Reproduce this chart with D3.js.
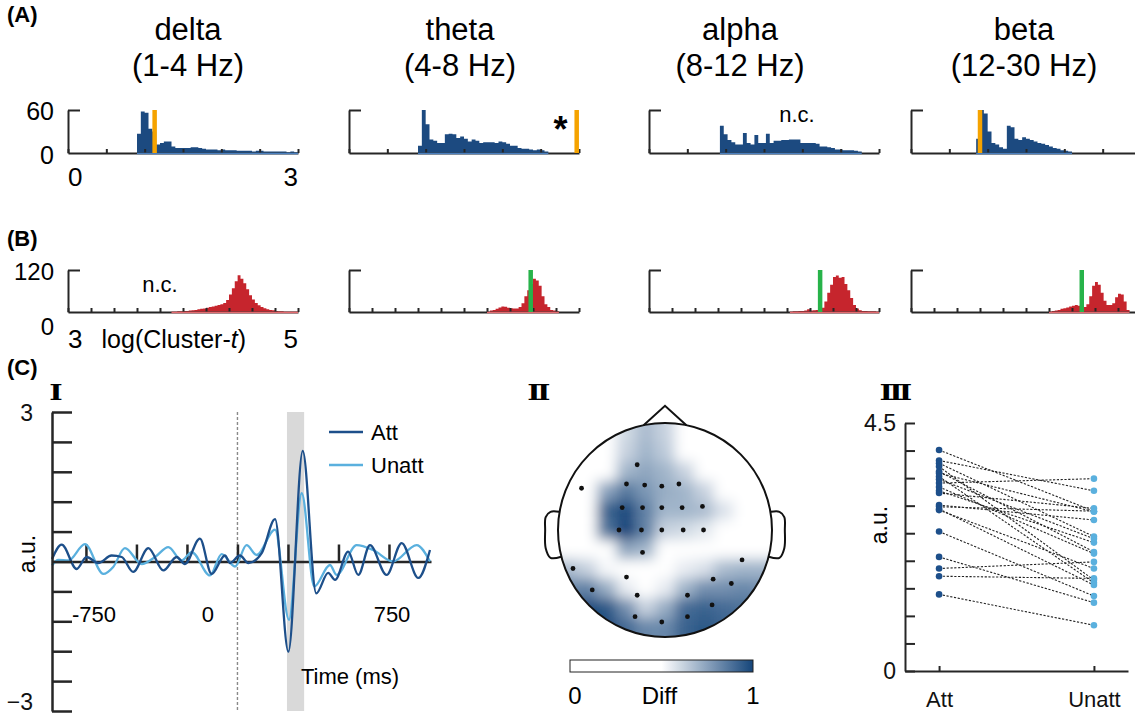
<!DOCTYPE html>
<html>
<head>
<meta charset="utf-8">
<script src="https://cdn.jsdelivr.net/npm/d3@7"></script>
<style>
  body { margin: 0; background: #fff; }
  svg { font-family: "Liberation Sans", Arial, sans-serif; display: block; }
</style>
</head>
<body>
<div id="chart"></div>
<script>
// ---------- data ----------
const bands = ["delta", "theta", "alpha", "beta"];
const bandRanges = ["(1-4 Hz)", "(4-8 Hz)", "(8-12 Hz)", "(12-30 Hz)"];

// (A) null distributions, bin width 0.05, counts per bin from first bin start
const aBinStart = [0.90, 0.90, 0.925, 0.85];
const aCounts = [
  [27,58,56,34,30,12,14,16,16,9,7,7,7,7,8,8,7,6,5,5,5,4,5,4,4,4,3,3,3,3,2,3,3,2,2,2,2,2,2,1,2,1],
  [10,60,40,19,17,14,14,26,27,26,21,23,20,16,19,17,14,15,15,15,14,16,15,13,10,10,7,6,6,5,4,5,4,2],
  [38,26,18,15,12,12,28,14,12,25,14,14,27,14,17,17,18,18,19,19,19,14,14,14,14,13,9,9,8,7,5,5,4,4,4,3,2],
  [20,60,55,30,14,12,8,6,38,36,20,18,22,20,18,16,14,13,11,9,7,6,4,3,2]
];
const aObserved = [1.13, 2.97, null, 0.90];   // orange markers

// (B) log(Cluster-t) distributions, bin width 0.025
const bBinStart = [3.90, 4.20, 4.225, 4.20];
const bCounts = [
  [1,1,2,2,3,3,4,5,6,8,9,10,12,14,16,18,20,22,26,34,50,68,88,105,95,82,65,48,36,26,19,14,11,8,6,5,3,2,2,1,1,1,1,1],
  [1,4,6,9,13,16,15,12,11,10,10,14,25,45,62,80,95,90,75,45,22,14,6,4,2],
  [1,2,2,3,3,4,8,4,5,6,6,12,30,55,78,100,104,98,100,80,62,40,20,10,5,3,3,2,2,2,1],
  [1,3,4,6,9,11,13,16,18,20,18,14,14,22,45,75,86,78,55,32,20,20,25,42,52,50,30,6]
];
const bObserved = [null, 4.58, 4.488, 4.485];  // green markers

// (C-I) waveforms (ms, a.u.)
const attT = [-918,-870,-796,-747,-689,-623,-573,-516,-441,-367,-301,-260,-186,-128,-62,-37,12,54,120,186,252,323,390,449,483,548,598,656,738,813,895,953];
const attV = [0.05,0.34,-0.15,0.09,-0.03,0.12,0.09,-0.21,0.27,-0.18,0.09,-0.05,0.46,-0.25,0.12,-0.03,0.12,-0.03,0.17,0.85,-1.81,2.22,-0.64,-0.23,-0.37,0.20,-0.27,0.33,-0.27,0.37,-0.33,0.23];
const unattT = [-918,-887,-837,-755,-664,-615,-557,-474,-408,-342,-276,-227,-136,-78,-12,45,95,186,255,318,380,458,491,590,672,770,887,953];
const unattV = [-0.08,0.03,0.02,0.35,-0.25,-0.11,0.27,-0.05,0.09,0.29,0.02,0.19,-0.28,0.15,-0.10,0.33,0.13,0.64,-1.17,1.37,-0.50,-0.07,-0.27,0.33,0.23,0.0,0.33,0.0];
const shadeWindow = [245, 330];
const timeTicks = [-750, -500, -250, 0, 250, 500, 750];
const timeLabels = ["-750", "0", "750"];
const timeLabelAt = [-710, -146, 765];

// (C-II) topography: 11x11 grid of Diff values, rows front->back, cols left->right
const topoGrid = [
  [.2,.2,.2,.6,.68,.62,.2,.2,.2,.2,.2],
  [.2,.2,.2,.62,.7,.64,.2,.2,.2,.2,.2],
  [.2,.2,.3,.7,.74,.7,.62,.2,.2,.2,.2],
  [.2,.2,.75,.86,.78,.72,.7,.62,.2,.2,.2],
  [.2,.3,.92,.98,.84,.7,.7,.68,.58,.2,.2],
  [.2,.3,.88,1.0,.84,.62,.6,.56,.2,.2,.2],
  [.2,.2,.5,.74,.7,.5,.2,.2,.2,.2,.2],
  [.68,.62,.52,.2,.2,.2,.55,.58,.68,.7,.7],
  [.82,.84,.72,.55,.2,.55,.7,.8,.8,.82,.8],
  [.9,.98,.95,.8,.62,.72,.9,.92,.9,.88,.84],
  [.95,1.0,.98,.9,.82,.82,.92,.95,.92,.9,.85]
];
const electrodeX = [-0.26,-0.78,-0.36,-0.19,-0.03,0.13,-0.40,-0.21,-0.03,0.16,0.35,-0.43,-0.22,-0.03,0.17,0.36,-0.21,0.72,-0.86,-0.36,0.45,0.62,-0.68,-0.26,0.21,0.44,-0.28,-0.03,0.21];
const electrodeY = [-0.61,-0.39,-0.43,-0.42,-0.41,-0.43,-0.21,-0.21,-0.21,-0.21,-0.22,0,0,0,0,0,0.21,0.28,0.36,0.44,0.46,0.50,0.56,0.61,0.61,0.70,0.81,0.86,0.81];

// (C-III) per-subject amplitudes
const conditions = ["Att", "Unatt"];
const attAmp = [4.01,3.82,3.77,3.71,3.62,3.59,3.53,3.48,3.41,3.34,3.27,3.23,3.01,2.98,2.94,2.92,2.53,2.07,1.86,1.72,1.39];
const unattAmp = [2.90,3.27,2.44,1.65,2.16,2.89,1.60,2.40,3.49,2.13,2.33,2.95,2.74,2.90,1.56,1.86,1.36,1.24,1.98,1.68,0.83];

// ---------- styles ----------
const blue = "#1c4a80", red = "#c6252d", orange = "#f5a300", green = "#27b34a";
const attColor = "#1d4f8a", unattColor = "#5ab0de";
const axisColor = "#262626";

const svg = d3.select("#chart").append("svg")
    .attr("width", 1135)
    .attr("height", 718);

function styleAxis(g, w) {
  g.attr("font-family", null).attr("font-size", 23);
  g.selectAll("path, line").attr("stroke", axisColor).attr("stroke-width", w);
  g.selectAll("text").attr("fill", "#111");
}

// panel letters
[["(A)", 22], ["(B)", 246], ["(C)", 375]].forEach(([t, y]) => {
  svg.append("text").attr("x", 7).attr("y", y)
    .attr("font-size", 22).attr("font-weight", "bold").text(t);
});

// ---------- histogram rows ----------
const panelX = [68, 349, 649, 911];
const panelW = 230;
const titleX = [188, 460, 740, 1024];

function histPanel(i, o) {
  const x = d3.scaleLinear().domain(o.domain).range([panelX[i], panelX[i] + panelW]);
  const y = d3.scaleLinear().domain([0, o.yMax]).range([o.yBase, o.yTop]);
  const bins = o.counts.map((c, k) => ({x0: o.start + k * o.binW, c}));
  bins.push({x0: o.start + o.counts.length * o.binW, c: 0});

  const area = d3.area()
      .x(d => x(d.x0))
      .y0(y(0))
      .y1(d => y(d.c))
      .curve(d3.curveStepAfter);
  svg.append("path").datum(bins).attr("d", area).attr("fill", o.fill);

  // x axis, small ticks pointing up
  const gx = svg.append("g")
      .attr("transform", `translate(0,${o.yBase})`)
      .call(d3.axisBottom(x).tickValues(o.ticks).tickSize(-4).tickSizeOuter(0).tickFormat(""));
  styleAxis(gx, 2);

  // light rim along baseline under the bars
  svg.append("line")
      .attr("x1", x(o.start)).attr("x2", x(bins[bins.length - 1].x0))
      .attr("y1", o.yBase + 0.5).attr("y2", o.yBase + 0.5)
      .attr("stroke", o.rim).attr("stroke-width", 1.5);

  // y axis with a short top tick pointing right
  const gy = svg.append("g")
      .attr("transform", `translate(${panelX[i]},0)`)
      .call(d3.axisLeft(y).tickValues([o.yMax]).tickSize(-12).tickSizeOuter(0).tickFormat(""));
  styleAxis(gy, 2);

  if (o.marker != null) {
    svg.append("line")
        .attr("x1", x(o.marker)).attr("x2", x(o.marker))
        .attr("y1", y(0)).attr("y2", y(o.yMax))
        .attr("stroke", o.markerColor).attr("stroke-width", 4.5);
  }
  return {x, y};
}

bands.forEach((b, i) => {
  svg.append("text").attr("x", titleX[i]).attr("y", 40)
      .attr("text-anchor", "middle").attr("font-size", 31).text(b);
  svg.append("text").attr("x", titleX[i]).attr("y", 76)
      .attr("text-anchor", "middle").attr("font-size", 31).text(bandRanges[i]);

  const a = histPanel(i, {
    domain: [0, 3], start: aBinStart[i], binW: 0.05, counts: aCounts[i],
    yMax: 60, yTop: 110, yBase: 153, fill: blue, rim: "#4a80c0",
    ticks: d3.range(0, 3.01, 0.5), marker: aObserved[i], markerColor: orange
  });
  const bb = histPanel(i, {
    domain: [3, 5], start: bBinStart[i], binW: 0.025, counts: bCounts[i],
    yMax: 120, yTop: 270, yBase: 312, fill: red, rim: "#e46a6f",
    ticks: d3.range(3, 5.01, 0.2), marker: bObserved[i], markerColor: green
  });

  if (i === 0) {
    svg.append("text").attr("x", 54).attr("y", 120).attr("text-anchor", "end").attr("font-size", 25).text("60");
    svg.append("text").attr("x", 54).attr("y", 164).attr("text-anchor", "end").attr("font-size", 25).text("0");
    svg.append("text").attr("x", a.x(0)).attr("y", 186).attr("font-size", 26).text("0");
    svg.append("text").attr("x", a.x(3)).attr("y", 186).attr("text-anchor", "end").attr("font-size", 26).text("3");

    svg.append("text").attr("x", 54).attr("y", 280).attr("text-anchor", "end").attr("font-size", 24).text("120");
    svg.append("text").attr("x", 54).attr("y", 335).attr("text-anchor", "end").attr("font-size", 24).text("0");
    svg.append("text").attr("x", bb.x(3)).attr("y", 348).attr("font-size", 26).text("3");
    svg.append("text").attr("x", bb.x(5)).attr("y", 348).attr("text-anchor", "end").attr("font-size", 26).text("5");
    const lab = svg.append("text").attr("x", bb.x(3.92)).attr("y", 348)
        .attr("text-anchor", "middle").attr("font-size", 25);
    lab.append("tspan").text("log(Cluster-");
    lab.append("tspan").attr("font-style", "italic").text("t");
    lab.append("tspan").text(")");
    svg.append("text").attr("x", bb.x(3.8)).attr("y", 292)
        .attr("text-anchor", "middle").attr("font-size", 22).text("n.c.");
  }
  if (i === 1) {
    svg.append("text").attr("x", a.x(2.76)).attr("y", 142)
        .attr("text-anchor", "middle").attr("font-size", 36).attr("font-weight", "bold").text("*");
  }
  if (i === 2) {
    svg.append("text").attr("x", a.x(1.93)).attr("y", 122)
        .attr("text-anchor", "middle").attr("font-size", 22).text("n.c.");
  }
});

// roman numerals
[["I", 54], ["II", 537], ["III", 894]].forEach(([t, x]) => {
  svg.append("text").attr("x", x).attr("y", 400)
    .attr("text-anchor", "middle").attr("font-family", "DejaVu Serif")
    .attr("font-weight", "bold").attr("font-size", 23).attr("letter-spacing", -3)
    .attr("transform", `translate(${x},0) scale(1.25,1) translate(${-x},0)`).text(t);
});

// ---------- (C-I) waveforms ----------
const tx = d3.scaleLinear().domain([-918, 958]).range([52, 431]);
const ty = d3.scaleLinear().domain([-3, 3]).range([711, 412]);

svg.append("rect")
    .attr("x", tx(shadeWindow[0])).attr("width", tx(shadeWindow[1]) - tx(shadeWindow[0]))
    .attr("y", ty(3)).attr("height", ty(-3) - ty(3))
    .attr("fill", "#d9d9d9");

svg.append("line")
    .attr("x1", tx(0)).attr("x2", tx(0)).attr("y1", ty(3)).attr("y2", ty(-3))
    .attr("stroke", "#8a8a8a").attr("stroke-width", 1.4).attr("stroke-dasharray", "3,2");

const gt = svg.append("g")
    .attr("transform", `translate(0,${ty(0)})`)
    .call(d3.axisBottom(tx).tickValues(timeTicks).tickSize(-17).tickSizeOuter(0).tickFormat(""));
styleAxis(gt, 2.5);

const waveLine = d3.line()
    .x(d => tx(d[0]))
    .y(d => ty(d[1]))
    .curve(d3.curveMonotoneX);

svg.append("path")
    .datum(unattT.map((t, k) => [t, unattV[k]]))
    .attr("d", waveLine).attr("fill", "none")
    .attr("stroke", unattColor).attr("stroke-width", 2.3);
svg.append("path")
    .datum(attT.map((t, k) => [t, attV[k]]))
    .attr("d", waveLine).attr("fill", "none")
    .attr("stroke", attColor).attr("stroke-width", 2.3);

const gv = svg.append("g")
    .attr("transform", `translate(${tx(-918)},0)`)
    .call(d3.axisLeft(ty).tickValues(d3.range(-3, 3.01, 0.6)).tickSize(-20).tickSizeOuter(0)
      .tickPadding(19)
      .tickFormat(d => Math.abs(Math.abs(d) - 3) < 1e-6 ? d3.format("d")(d) : ""));
styleAxis(gv, 2.5);
gv.selectAll("text").attr("font-size", 23).attr("dy", d => d < 0 ? "-0.08em" : "0.36em");

timeLabels.forEach((t, k) => {
  svg.append("text").attr("x", tx(timeLabelAt[k])).attr("y", 622)
      .attr("text-anchor", "middle").attr("font-size", 22).text(t);
});
svg.append("text").attr("x", 350).attr("y", 684)
    .attr("text-anchor", "middle").attr("font-size", 22).text("Time (ms)");
svg.append("text").attr("transform", "translate(35,554) rotate(-90)")
    .attr("text-anchor", "middle").attr("font-size", 23).text("a.u.");

[["Att", attColor, 432], ["Unatt", unattColor, 465]].forEach(([name, col, y]) => {
  svg.append("line").attr("x1", 329).attr("x2", 363).attr("y1", y).attr("y2", y)
      .attr("stroke", col).attr("stroke-width", 2.3);
  svg.append("text").attr("x", 371).attr("y", y + 8).attr("font-size", 22).text(name);
});

// ---------- (C-II) topography ----------
const hx = d3.scaleLinear().domain([-1, 1]).range([558, 772]);
const hy = d3.scaleLinear().domain([-1, 1]).range([423, 637]);
const topoColor = d3.scaleLinear().domain([0, 0.5, 1]).range(["#ffffff", "#ffffff", "#15457a"]);

const defs = svg.append("defs");
defs.append("clipPath").attr("id", "headClip")
  .append("circle").attr("cx", hx(0)).attr("cy", hy(0)).attr("r", hx(1) - hx(0));
defs.append("filter").attr("id", "topoBlur")
    .attr("x", "-10%").attr("y", "-10%").attr("width", "120%").attr("height", "120%")
  .append("feGaussianBlur").attr("stdDeviation", 6.5);

const n = topoGrid.length, step = 2 / n;
const cells = [];
topoGrid.forEach((row, r) => row.forEach((v, c) => cells.push({r, c, v})));
svg.append("g").attr("clip-path", "url(#headClip)")
  .append("g").attr("filter", "url(#topoBlur)")
  .selectAll("rect").data(cells).join("rect")
    .attr("x", d => hx(-1 + d.c * step) - (d.c === 0 ? 20 : 0))
    .attr("y", d => hy(-1 + d.r * step) - (d.r === 0 ? 20 : 0))
    .attr("width", d => hx(-1 + (d.c + 1) * step) - hx(-1 + d.c * step) + 0.6 + (d.c === 0 || d.c === n - 1 ? 20 : 0))
    .attr("height", d => hy(-1 + (d.r + 1) * step) - hy(-1 + d.r * step) + 0.6 + (d.r === 0 || d.r === n - 1 ? 20 : 0))
    .attr("fill", d => topoColor(d.v));

const outline = d3.line().x(d => hx(d[0])).y(d => hy(d[1]));
svg.append("circle").attr("cx", hx(0)).attr("cy", hy(0)).attr("r", hx(1) - hx(0))
    .attr("fill", "none").attr("stroke", "#111").attr("stroke-width", 2);
svg.append("path").datum([[-0.2, -0.98], [0, -1.16], [0.2, -0.98]])
    .attr("d", outline).attr("fill", "none").attr("stroke", "#111").attr("stroke-width", 2);
const ear = d3.line().x(d => hx(d[0])).y(d => hy(d[1])).curve(d3.curveCatmullRom);
[-1, 1].forEach(s => {
  svg.append("path")
      .datum([[0.99, -0.17], [1.07, -0.17], [1.115, -0.12], [1.12, 0.0], [1.115, 0.17], [1.07, 0.26], [0.97, 0.25]]
        .map(p => [s * p[0], p[1]]))
      .attr("d", ear).attr("fill", "none").attr("stroke", "#111").attr("stroke-width", 2);
});
svg.append("g").selectAll("circle").data(electrodeX).join("circle")
    .attr("cx", d => hx(d)).attr("cy", (d, k) => hy(electrodeY[k]))
    .attr("r", 2.4).attr("fill", "#111");

// colour bar
const cb = d3.scaleLinear().domain([0, 1]).range([570, 753]);
const grad = defs.append("linearGradient").attr("id", "cbGrad");
d3.range(0, 1.001, 0.05).forEach(v => {
  grad.append("stop").attr("offset", `${v * 100}%`).attr("stop-color", topoColor(v));
});
svg.append("rect").attr("x", cb(0)).attr("y", 660).attr("width", cb(1) - cb(0)).attr("height", 12)
    .attr("fill", "url(#cbGrad)").attr("stroke", "#222").attr("stroke-width", 1);
[[0, "0", 5], [0.5, "Diff", -2], [1, "1", 0]].forEach(([v, t, dx]) => {
  svg.append("text").attr("x", cb(v) + dx).attr("y", 704)
      .attr("text-anchor", "middle").attr("font-size", 24).text(t);
});

// ---------- (C-III) paired amplitudes ----------
const px = d3.scalePoint().domain(conditions).range([905, 1128]).padding(0.22);
const py = d3.scaleLinear().domain([0, 4.5]).range([671, 423]);

const gpy = svg.append("g")
    .attr("transform", `translate(905,0)`)
    .call(d3.axisLeft(py).tickValues(d3.range(0, 4.51, 0.5)).tickSize(-10).tickSizeOuter(0)
      .tickPadding(9)
      .tickFormat(d => (d === 0 || d === 4.5) ? d3.format("")(d) : ""));
styleAxis(gpy, 2);
const gpx = svg.append("g")
    .attr("transform", `translate(0,671)`)
    .call(d3.axisBottom(px).tickSize(-5).tickSizeOuter(0).tickPadding(20));
styleAxis(gpx, 2);
gpx.selectAll("text").attr("font-size", 22);
svg.append("text").attr("transform", "translate(887,525) rotate(-90)")
    .attr("text-anchor", "middle").attr("font-size", 23).text("a.u.");

svg.append("g").selectAll("line").data(attAmp).join("line")
    .attr("x1", px("Att")).attr("x2", px("Unatt"))
    .attr("y1", d => py(d)).attr("y2", (d, k) => py(unattAmp[k]))
    .attr("stroke", "#222").attr("stroke-width", 1.1).attr("stroke-dasharray", "2.2,1.6");
svg.append("g").selectAll("circle").data(attAmp).join("circle")
    .attr("cx", px("Att")).attr("cy", d => py(d)).attr("r", 3.3).attr("fill", attColor);
svg.append("g").selectAll("circle").data(unattAmp).join("circle")
    .attr("cx", px("Unatt")).attr("cy", d => py(d)).attr("r", 3.3).attr("fill", unattColor);
</script>
</body>
</html>
